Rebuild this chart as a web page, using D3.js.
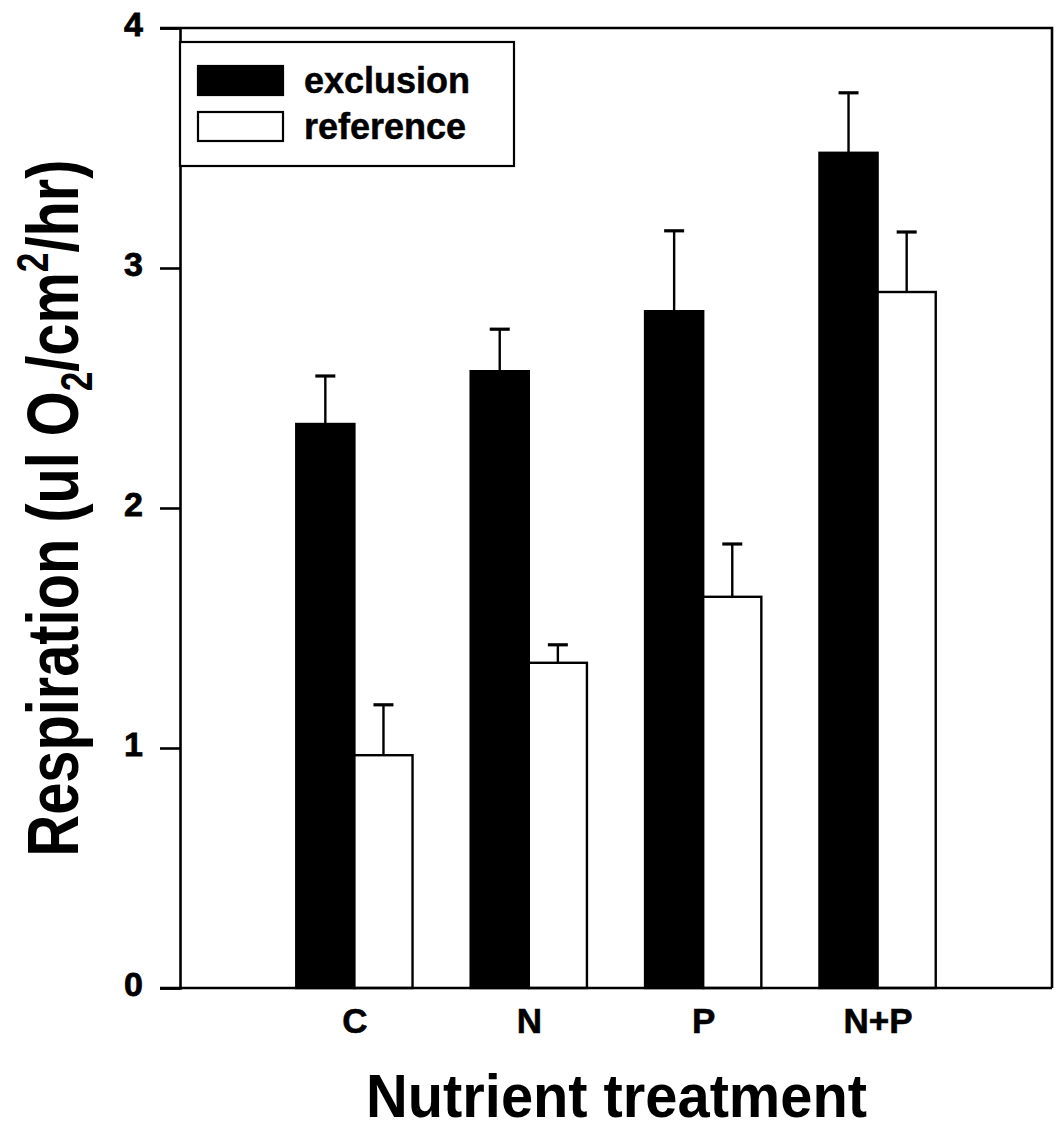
<!DOCTYPE html>
<html>
<head>
<meta charset="utf-8">
<script src="https://cdn.jsdelivr.net/npm/d3@7"></script>
<style>
  html, body { margin: 0; padding: 0; background: #fff; }
  svg { display: block; }
  text { font-family: "Liberation Sans", Arial, Helvetica, sans-serif; font-weight: bold; fill: #000; }
</style>
</head>
<body>
<svg id="chart" width="1055" height="1131"></svg>
<script>
// Respiration by nutrient treatment, exclusion vs reference
const categories = ["C", "N", "P", "N+P"];
const exclusionMean = [2.35, 2.57, 2.82, 3.48];
const exclusionErr  = [0.20, 0.175, 0.335, 0.25];
const referenceMean = [0.97, 1.355, 1.63, 2.90];
const referenceErr  = [0.21, 0.075, 0.22, 0.25];
const yTicks = [0, 1, 2, 3, 4];
const seriesNames = ["exclusion", "reference"];

const svg = d3.select("#chart");
const plotLeft = 180, plotRight = 1052, plotTop = 28, plotBottom = 988;

// categories sit at positions 1..4 on a 0..5 axis
const x = d3.scaleLinear().domain([0, categories.length + 1]).range([plotLeft, plotRight]);
const y = d3.scaleLinear().domain([0, 4]).range([plotBottom, plotTop]);
const barW = (x(1) - x(0)) / 3;

const series = [
  { name: seriesNames[0], mean: exclusionMean, err: exclusionErr, fill: "#000", offset: -1 },
  { name: seriesNames[1], mean: referenceMean, err: referenceErr, fill: "#fff", offset: 0 }
];

// bars
series.forEach(s => {
  svg.append("g").selectAll("rect")
    .data(categories.map((c, i) => ({ i, v: s.mean[i] })))
    .join("rect")
    .attr("x", d => x(d.i + 1) + s.offset * barW)
    .attr("y", d => y(d.v))
    .attr("width", barW)
    .attr("height", d => y(0) - y(d.v))
    .attr("fill", s.fill)
    .attr("stroke", "#000")
    .attr("stroke-width", 2.4);
});

// upper error bars
series.forEach(s => {
  const g = svg.append("g").attr("stroke", "#000");
  categories.forEach((c, i) => {
    const cx = x(i + 1) + s.offset * barW + barW / 2;
    g.append("line")
      .attr("x1", cx).attr("x2", cx)
      .attr("y1", y(s.mean[i])).attr("y2", y(s.mean[i] + s.err[i]))
      .attr("stroke-width", 2.4);
    g.append("line")
      .attr("x1", cx - 10).attr("x2", cx + 10)
      .attr("y1", y(s.mean[i] + s.err[i])).attr("y2", y(s.mean[i] + s.err[i]))
      .attr("stroke-width", 3.2);
  });
});

// frame: top and right edges
svg.append("path")
  .attr("d", `M${plotLeft - 20},${plotTop}H${plotRight}V${plotBottom}`)
  .attr("fill", "none").attr("stroke", "#000").attr("stroke-width", 2.6);

// y axis
const yAxis = svg.append("g")
  .attr("transform", `translate(${plotLeft},0)`)
  .call(d3.axisLeft(y).tickValues(yTicks).tickSize(20).tickPadding(17).tickFormat(d3.format("d")));
yAxis.select(".domain").attr("stroke-width", 2.6);
yAxis.selectAll(".tick line").attr("stroke-width", 2.6);
yAxis.selectAll(".tick text")
  .attr("font-size", 34)
  .attr("font-family", "Liberation Sans, Arial, sans-serif")
  .attr("font-weight", "bold")
  .attr("stroke", "#000").attr("stroke-width", 0.8)
  .attr("dy", "0.22em");

// x axis (no tick marks)
const xAxis = svg.append("g")
  .attr("transform", `translate(0,${plotBottom})`)
  .call(d3.axisBottom(x).tickValues(d3.range(1, categories.length + 1)).tickSize(0).tickPadding(0)
    .tickFormat(d => categories[d - 1]));
xAxis.select(".domain").remove();
svg.append("line")
  .attr("x1", plotLeft - 20).attr("x2", plotRight)
  .attr("y1", plotBottom).attr("y2", plotBottom)
  .attr("stroke", "#000").attr("stroke-width", 2.6);
xAxis.selectAll(".tick text")
  .attr("font-size", 35)
  .attr("font-family", "Liberation Sans, Arial, sans-serif")
  .attr("font-weight", "bold")
  .attr("stroke", "#000").attr("stroke-width", 0.6)
  .attr("y", 45)
  .attr("dy", 0);

// legend
const legend = svg.append("g");
legend.append("rect")
  .attr("x", plotLeft).attr("y", 42).attr("width", 514 - plotLeft).attr("height", 124)
  .attr("fill", "#fff").attr("stroke", "#000").attr("stroke-width", 2.2);
series.forEach((s, k) => {
  const ly = 66 + k * 46;
  legend.append("rect")
    .attr("x", 198).attr("y", ly).attr("width", 85).attr("height", 29)
    .attr("fill", s.fill).attr("stroke", "#000").attr("stroke-width", 2.2);
  legend.append("text")
    .attr("x", 304).attr("y", ly + 27)
    .attr("font-size", 36)
    .attr("stroke", "#000").attr("stroke-width", 0.5)
    .text(s.name);
});

// x axis title, compressed horizontally to a target width
const xt = svg.append("text")
  .attr("x", 0).attr("y", 0)
  .attr("text-anchor", "middle")
  .attr("font-size", 62)
  .text("Nutrient treatment");
{
  const k = 501 / xt.node().getComputedTextLength();
  xt.attr("transform", `translate(616.5,1117) scale(${k},1)`);
}

// y axis title with subscript and superscript
const yt = svg.append("text")
  .attr("text-anchor", "middle")
  .attr("font-size", 72);
yt.append("tspan").text("Respiration (ul O");
yt.append("tspan").attr("font-size", 44).attr("dy", 14).text("2");
yt.append("tspan").attr("dy", -14).text("/cm");
yt.append("tspan").attr("font-size", 44).attr("dy", -30).text("2");
yt.append("tspan").attr("dy", 30).text("/hr)");
{
  const k = 697 / yt.node().getComputedTextLength();
  yt.attr("transform", `translate(78,508) rotate(-90) scale(${k},1)`);
}
</script>
</body>
</html>
